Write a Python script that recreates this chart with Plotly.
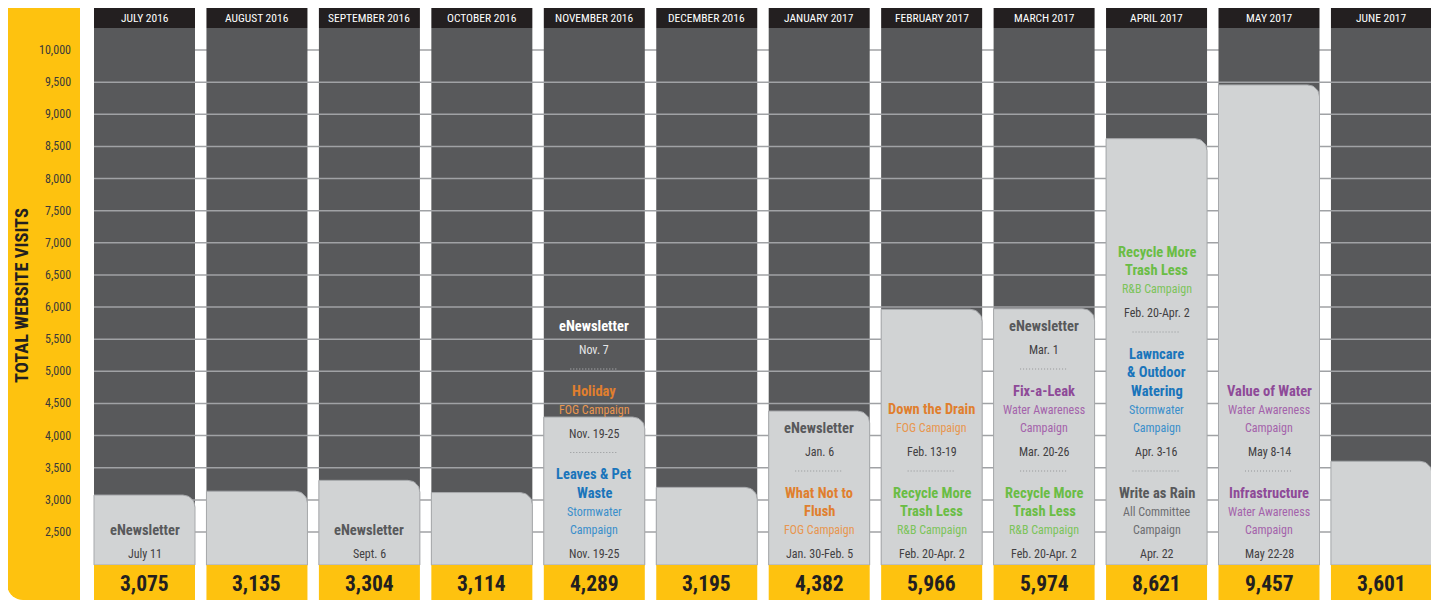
import numpy as np
import plotly.graph_objects as go

# ---------------- data ----------------
months = ["JULY 2016", "AUGUST 2016", "SEPTEMBER 2016", "OCTOBER 2016", "NOVEMBER 2016",
          "DECEMBER 2016", "JANUARY 2017", "FEBRUARY 2017", "MARCH 2017", "APRIL 2017",
          "MAY 2017", "JUNE 2017"]
visits = [3075, 3135, 3304, 3114, 4289, 3195, 4382, 5966, 5974, 8621, 9457, 3601]
tick_values = [2500, 3000, 3500, 4000, 4500, 5000, 5500, 6000, 6500, 7000, 7500,
               8000, 8500, 9000, 9500, 10000]
tick_labels = ["2,500", "3,000", "3,500", "4,000", "4,500", "5,000", "5,500", "6,000",
               "6,500", "7,000", "7,500", "8,000", "8,500", "9,000", "9,500", "10,000"]
axis_title = "TOTAL WEBSITE VISITS"

# campaigns per month (top to bottom): (title lines, subtitle lines, date, kind)
campaigns = {
    0: [(["eNewsletter"], [], "July 11", "news")],
    2: [(["eNewsletter"], [], "Sept. 6", "news")],
    4: [(["eNewsletter"], [], "Nov. 7", "news"),
        (["Holiday"], ["FOG Campaign"], "Nov. 19-25", "fog"),
        (["Leaves & Pet", "Waste"], ["Stormwater", "Campaign"], "Nov. 19-25", "storm")],
    6: [(["eNewsletter"], [], "Jan. 6", "news"),
        (["What Not to", "Flush"], ["FOG Campaign"], "Jan. 30-Feb. 5", "fog")],
    7: [(["Down the Drain"], ["FOG Campaign"], "Feb. 13-19", "fog"),
        (["Recycle More", "Trash Less"], ["R&B Campaign"], "Feb. 20-Apr. 2", "rb")],
    8: [(["eNewsletter"], [], "Mar. 1", "news"),
        (["Fix-a-Leak"], ["Water Awareness", "Campaign"], "Mar. 20-26", "water"),
        (["Recycle More", "Trash Less"], ["R&B Campaign"], "Feb. 20-Apr. 2", "rb")],
    9: [(["Recycle More", "Trash Less"], ["R&B Campaign"], "Feb. 20-Apr. 2", "rb"),
        (["Lawncare", "& Outdoor", "Watering"], ["Stormwater", "Campaign"], "Apr. 3-16", "storm"),
        (["Write as Rain"], ["All Committee", "Campaign"], "Apr. 22", "all")],
    10: [(["Value of Water"], ["Water Awareness", "Campaign"], "May 8-14", "water"),
         (["Infrastructure"], ["Water Awareness", "Campaign"], "May 22-28", "water")],
}

# ---------------- styles ----------------
OFF = 8                      # page body margin added by the browser
W, H = 1439 - OFF, 600 - OFF
FONT = "Roboto Condensed, Roboto, sans-serif"
YELLOW = "#FEC20F"
BLACK = "#231F20"
DARK = "#58595B"
LIGHT = "#D1D3D4"
GRID = "#A0A2A5"
kind_colors = {
    "news": ("#58595B", "#6D6E71"),
    "fog": ("#E07F2E", "#E8964F"),
    "storm": ("#1A75BB", "#3A8FCB"),
    "rb": ("#6ABD45", "#7CC35A"),
    "water": ("#8E4A98", "#A463AB"),
    "all": ("#58595B", "#6D6E71"),
}
SZ_TITLE, SZ_SUB, SZ_DATE = 14.5, 12, 12
SZ_MONTH, SZ_VALUE, SZ_TICK, SZ_AXIS = 11.5, 21.5, 12, 18.5

# pixel geometry helpers (page pixel coordinates -> data coordinates)
COL_LEFT0, PITCH, COL_W = 94.0, 112.45, 101.0
Y10K_PX, PX_PER_UNIT = 50.0, 0.06427


def px_x(px):
    return (px - (COL_LEFT0 + COL_W / 2)) / PITCH


def px_y(py):
    return 10000 - (py - Y10K_PX) / PX_PER_UNIT


def y_px(v):
    return Y10K_PX + (10000 - v) * PX_PER_UNIT


half_w = (COL_W / 2) / PITCH
HEAD_TOP, HEAD_BOT, BODY_BOT = 8, 28, 565

fig = go.Figure()
shapes = []
annotations = []

# yellow axis panel with rounded bottom-left corner
r = 16
x0p, x1p, y0p, y1p = 7, 80, 7, 600
pts = [(x0p, y0p), (x1p, y0p), (x1p, y1p), (x0p + r, y1p)]
for t in np.linspace(np.pi / 2, np.pi, 10):
    pts.append((x0p + r + r * np.cos(t), y1p - r + r * np.sin(t)))
pts.append((x0p, y0p))
path = "M " + " L ".join(f"{px_x(a):.5f},{px_y(b):.3f}" for a, b in pts) + " Z"
shapes.append(dict(type="path", path=path, xref="x", yref="y", fillcolor=YELLOW,
                   line=dict(width=0), layer="below"))

x_first = px_x(COL_LEFT0)
x_last = len(months) - 1 + half_w

# 10,000 line sits behind the columns
shapes.append(dict(type="line", xref="x", yref="y", x0=x_first, x1=x_last,
                   y0=tick_values[-1], y1=tick_values[-1],
                   line=dict(color=GRID, width=1.5), layer="below"))

for i, m in enumerate(months):
    xl, xr = i - half_w, i + half_w
    shapes.append(dict(type="rect", xref="x", yref="y", x0=xl, x1=xr,
                       y0=px_y(BODY_BOT), y1=px_y(HEAD_BOT), fillcolor=DARK,
                       line=dict(width=0), layer="below"))
    shapes.append(dict(type="rect", xref="x", yref="y", x0=xl, x1=xr,
                       y0=px_y(HEAD_BOT), y1=px_y(HEAD_TOP - 2), fillcolor=BLACK,
                       line=dict(width=0), layer="below"))
    annotations.append(dict(x=i, y=px_y((HEAD_TOP + HEAD_BOT) / 2), xref="x", yref="y",
                            text=m, showarrow=False,
                            font=dict(family=FONT, size=SZ_MONTH, color="white")))
    shapes.append(dict(type="rect", xref="x", yref="y", x0=xl, x1=xr,
                       y0=px_y(605), y1=px_y(BODY_BOT), fillcolor=YELLOW,
                       line=dict(width=0), layer="above"))
    annotations.append(dict(x=i, y=px_y(583), xref="x", yref="y",
                            text=f"{visits[i]:,}", showarrow=False,
                            font=dict(family=FONT, size=SZ_VALUE, color=BLACK, weight="bold")))

# gridlines on top of dark columns
for v in tick_values[:-1]:
    shapes.append(dict(type="line", xref="x", yref="y", x0=x_first, x1=x_last, y0=v, y1=v,
                       line=dict(color=GRID, width=1.5), layer="below"))

# y tick labels
for v, lab in zip(tick_values, tick_labels):
    annotations.append(dict(x=px_x(73), y=v, xref="x", yref="y", text=lab, showarrow=False,
                            xanchor="right",
                            font=dict(family=FONT, size=SZ_TICK, color="#3A3A3A")))
annotations.append(dict(x=px_x(22), y=px_y(296), xref="x", yref="y", text=axis_title,
                        showarrow=False, textangle=-90,
                        font=dict(family=FONT, size=SZ_AXIS, color=BLACK, weight="bold")))

# light bars with rounded top-right corner
rx = 12 / PITCH
ry = 12 / PX_PER_UNIT
base = px_y(BODY_BOT)
for i, v in enumerate(visits):
    xl, xr = i - half_w, i + half_w
    xs = [xl, xl, xr - rx]
    ys = [base, v, v]
    for t in np.linspace(np.pi / 2, 0, 12):
        xs.append(xr - rx + rx * np.cos(t))
        ys.append(v - ry + ry * np.sin(t))
    xs += [xr, xl]
    ys += [base, base]
    fig.add_trace(go.Scatter(x=xs, y=ys, fill="toself", fillcolor=LIGHT, mode="lines",
                             line=dict(color="#A7A9AC", width=1), hoverinfo="skip",
                             showlegend=False))

# campaign text, stacked from bottom
for i, blocks in campaigns.items():
    top_px = y_px(visits[i])
    basepx = 554
    nb = len(blocks)
    for bi, (titles, subs, date, kind) in enumerate(reversed(blocks)):
        in_dark = basepx < top_px
        annotations.append(dict(x=i, y=px_y(basepx), xref="x", yref="y", text=date,
                                showarrow=False,
                                font=dict(family=FONT, size=SZ_DATE,
                                          color="#E6E7E8" if in_dark else "#414042")))
        lines = [(t, "title") for t in titles] + [(s, "sub") for s in subs]
        py = basepx - 24
        for text, role in reversed(lines):
            tc, sc = kind_colors[kind]
            col = tc if role == "title" else sc
            if kind == "news" and py < top_px:
                col = "white"
            f = dict(family=FONT, size=SZ_TITLE if role == "title" else SZ_SUB, color=col)
            if role == "title":
                f["weight"] = "bold"
            annotations.append(dict(x=i, y=px_y(py), xref="x", yref="y", text=text,
                                    showarrow=False, font=f))
            py -= 18.5
        top_line = py + 18.5
        if bi < nb - 1:
            sep = top_line - 22
            shapes.append(dict(type="line", xref="x", yref="y",
                               x0=i - 24 / PITCH, x1=i + 24 / PITCH,
                               y0=px_y(sep), y1=px_y(sep),
                               line=dict(color="#939598" if sep > top_px else "#BCBEC0",
                                         width=1, dash="1px,2px"), layer="above"))
            basepx = sep - 19

fig.update_layout(
    width=W, height=H,
    margin=dict(l=0, r=0, t=0, b=0),
    paper_bgcolor="white", plot_bgcolor="white",
    xaxis=dict(range=[px_x(OFF), px_x(OFF + W)], visible=False, fixedrange=True),
    yaxis=dict(range=[px_y(OFF + H), px_y(OFF)], visible=False, fixedrange=True),
    shapes=shapes, annotations=annotations, showlegend=False,
)
fig.write_html("out.html")
